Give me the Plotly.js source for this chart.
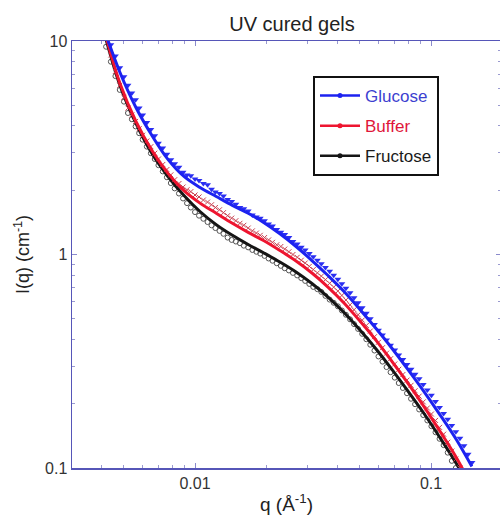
<!DOCTYPE html>
<html>
<head>
<meta charset="utf-8">
<script src="https://cdn.plot.ly/plotly-3.0.1.min.js"></script>
<style>html,body{margin:0;padding:0;overflow:hidden;background:#fff;}</style>
</head>
<body>
<div id="chart" style="width:501px;height:517px;"></div>
<script>
// ---- data ----
const seriesNames = ['Glucose', 'Buffer', 'Fructose'];

// measured points (common q grid)
const qData = [0.0040, 0.0042, 0.0044, 0.0046, 0.0048, 0.0050, 0.0052, 0.0054, 0.0056, 0.0058,
  0.0060, 0.00625, 0.0065, 0.00675, 0.0070, 0.0073, 0.0076, 0.0079, 0.0082, 0.00855,
  0.0089, 0.00925, 0.0096, 0.0100, 0.0104, 0.01085, 0.0113, 0.01175, 0.0122, 0.0127,
  0.0132, 0.01375, 0.0143, 0.0149, 0.0155, 0.0161, 0.0168, 0.0175, 0.0182, 0.0189,
  0.0197, 0.0205, 0.0213, 0.0222, 0.0231, 0.0240, 0.0250, 0.0260, 0.0271, 0.0282,
  0.0293, 0.0305, 0.0317, 0.0330, 0.0343, 0.0357, 0.0372, 0.0387, 0.0403, 0.0419,
  0.0436, 0.0454, 0.0472, 0.0491, 0.0511, 0.0532, 0.0553, 0.0576, 0.0599, 0.0623,
  0.0648, 0.0674, 0.0702, 0.0730, 0.0760, 0.0791, 0.0823, 0.0856, 0.0891, 0.0927,
  0.0965, 0.1004, 0.1045, 0.1087, 0.1131, 0.1177, 0.1225, 0.1274, 0.1326, 0.1380,
  0.1436, 0.1492, 0.155];
const glucoseData = [12.9, 11.0, 9.6, 8.5, 7.5, 6.8, 6.2, 5.7, 5.3, 4.85,
  4.5, 4.15, 3.85, 3.60, 3.32, 3.15, 2.95, 2.78, 2.66, 2.56,
  2.43, 2.36, 2.34, 2.26, 2.22, 2.15, 2.12, 2.02, 1.96, 1.93,
  1.88, 1.81, 1.77, 1.72, 1.66, 1.64, 1.60, 1.53, 1.50, 1.48,
  1.44, 1.39, 1.36, 1.31, 1.27, 1.24, 1.20, 1.15, 1.12, 1.08,
  1.05, 1.01, 0.975, 0.94, 0.905, 0.87, 0.835, 0.80, 0.765, 0.73,
  0.695, 0.662, 0.628, 0.595, 0.563, 0.530, 0.500, 0.470, 0.442, 0.420,
  0.398, 0.376, 0.357, 0.338, 0.322, 0.305, 0.290, 0.275, 0.262, 0.246,
  0.232, 0.219, 0.205, 0.192, 0.180, 0.169, 0.158, 0.148, 0.138, 0.127,
  0.116, 0.106, 0.098];
const bufferData = [12.5, 10.3, 8.6, 7.2, 6.2, 5.45, 4.85, 4.50, 4.20, 3.88,
  3.62, 3.40, 3.20, 2.98, 2.80, 2.64, 2.50, 2.36, 2.24, 2.15,
  2.07, 2.01, 1.97, 1.90, 1.86, 1.80, 1.76, 1.71, 1.66, 1.62,
  1.57, 1.52, 1.48, 1.44, 1.40, 1.37, 1.33, 1.29, 1.26, 1.23,
  1.20, 1.17, 1.14, 1.11, 1.09, 1.06, 1.03, 1.00, 0.970, 0.940,
  0.912, 0.880, 0.850, 0.820, 0.792, 0.762, 0.733, 0.703, 0.674, 0.643,
  0.612, 0.581, 0.551, 0.522, 0.493, 0.465, 0.438, 0.412, 0.388, 0.366,
  0.345, 0.325, 0.307, 0.290, 0.274, 0.258, 0.244, 0.230, 0.217, 0.204,
  0.191, 0.179, 0.167, 0.155, 0.144, 0.132, 0.120, 0.110, 0.100];
const fructoseData = [11.2, 9.4, 8.0, 6.85, 5.9, 5.2, 4.6, 4.3, 3.98, 3.70,
  3.45, 3.20, 2.98, 2.80, 2.62, 2.45, 2.30, 2.16, 2.04, 1.93,
  1.83, 1.74, 1.66, 1.58, 1.52, 1.47, 1.42, 1.37, 1.33, 1.29,
  1.25, 1.20, 1.17, 1.15, 1.13, 1.10, 1.08, 1.05, 1.03, 1.01,
  0.985, 0.958, 0.935, 0.910, 0.885, 0.862, 0.842, 0.820, 0.798, 0.775,
  0.752, 0.728, 0.705, 0.688, 0.668, 0.640, 0.615, 0.594, 0.572, 0.547,
  0.522, 0.497, 0.472, 0.448, 0.425, 0.401, 0.378, 0.355, 0.333, 0.315,
  0.297, 0.281, 0.265, 0.250, 0.237, 0.224, 0.211, 0.199, 0.188, 0.177,
  0.167, 0.157, 0.147, 0.137, 0.128, 0.118, 0.108, 0.100];

// model fits (common q grid)
const qFit = [0.00412, 0.00481, 0.00562, 0.00657, 0.00768, 0.00898, 0.0105, 0.0123, 0.0144, 0.0168,
  0.0196, 0.0229, 0.0268, 0.0313, 0.0366, 0.0428, 0.0500, 0.0585, 0.0684, 0.0799,
  0.0934, 0.109, 0.128, 0.149];
const glucoseFit = [11.32, 7.12, 4.88, 3.61, 2.79, 2.32, 2.06, 1.87, 1.70, 1.56,
  1.41, 1.25, 1.09, 0.937, 0.797, 0.671, 0.553, 0.450, 0.363, 0.289,
  0.228, 0.178, 0.136, 0.1016];
const bufferFit = [11.32, 6.32, 4.20, 3.07, 2.40, 1.99, 1.74, 1.56, 1.40, 1.27,
  1.16, 1.044, 0.932, 0.819, 0.704, 0.593, 0.488, 0.396, 0.315, 0.249,
  0.194, 0.149, 0.112, 0.0819];
const fructoseFit = [10.96, 6.19, 4.11, 2.97, 2.32, 1.89, 1.59, 1.38, 1.23, 1.114,
  1.016, 0.922, 0.828, 0.731, 0.632, 0.535, 0.443, 0.361, 0.289, 0.229,
  0.180, 0.139, 0.105, 0.0776];

const xTickVals = [0.01, 0.1];
const xTickText = ['0.01', '0.1'];
const yTickVals = [0.1, 1, 10];
const yTickText = ['0.1', '1', '10'];
const xMinor = [0.004, 0.005, 0.006, 0.007, 0.008, 0.009, 0.02, 0.03, 0.04, 0.05, 0.06, 0.07, 0.08, 0.09, 0.2];
const yMinor = [0.2, 0.3, 0.4, 0.5, 0.6, 0.7, 0.8, 0.9, 2, 3, 4, 5, 6, 7, 8, 9];

// ---- styling ----
const FONT = 'Liberation Sans, Arial, Helvetica, sans-serif';
const colors = {Glucose: '#1c22f0', Buffer: '#ee1530', Fructose: '#151515'};
const textColors = {Glucose: '#3d3fd0', Buffer: '#e0163a', Fructose: '#1a1a1a'};
const markerStyle = {
  Glucose: {symbol: 'triangle-down', size: 6, color: '#2a2ef2'},
  Buffer: {symbol: 'x-thin-open', size: 5, color: '#c8404f', line: {width: 1, color: '#c8404f'}},
  Fructose: {symbol: 'circle-open', size: 5, color: '#555555', line: {width: 1, color: '#555555'}}
};
const AX = '#5656b8';

const dataSets = {Glucose: glucoseData, Buffer: bufferData, Fructose: fructoseData};
const fits = {Glucose: glucoseFit, Buffer: bufferFit, Fructose: fructoseFit};

const traces = [];
// legend entries (line + marker)
seriesNames.forEach(n => {
  traces.push({
    x: [null], y: [null], type: 'scatter', mode: 'lines+markers',
    name: '<span style="color:' + textColors[n] + '">' + n + '</span>',
    line: {color: colors[n], width: 2.5},
    marker: {symbol: 'circle', size: 5, color: colors[n]},
    legendgroup: n, showlegend: true, hoverinfo: 'skip'
  });
});
// drawing order: Fructose, Buffer, Glucose
['Fructose', 'Buffer', 'Glucose'].forEach(n => {
  traces.push({
    x: qData.slice(0, dataSets[n].length), y: dataSets[n], type: 'scatter', mode: 'markers',
    marker: markerStyle[n], showlegend: false, legendgroup: n
  });
  traces.push({
    x: qFit, y: fits[n], type: 'scatter', mode: 'lines',
    line: {color: colors[n], width: 3, shape: 'spline', smoothing: 1},
    showlegend: false, legendgroup: n
  });
});

const layout = {
  width: 501, height: 517,
  margin: {l: 72, r: 0, t: 41, b: 49, autoexpand: false},
  paper_bgcolor: '#ffffff', plot_bgcolor: '#ffffff',
  font: {family: FONT, color: '#222', size: 16},
  showlegend: true,
  title: {
    text: 'UV cured gels', font: {family: FONT, size: 20, color: '#222'},
    xref: 'container', yref: 'container', x: 292 / 501, y: 1 - 24 / 517,
    xanchor: 'center', yanchor: 'middle'
  },
  xaxis: {
    type: 'log', range: [-2.5212, -0.7034],
    showline: true, linecolor: AX, linewidth: 1.5, mirror: 'ticks',
    ticks: 'inside', ticklen: 5, tickcolor: '#8a8acc', tickwidth: 1,
    tickmode: 'array', tickvals: xTickVals, ticktext: xTickText,
    minor: {tickmode: 'array', tickvals: xMinor, ticks: 'inside', ticklen: 3, tickcolor: '#9a9ad0'},
    showgrid: false, zeroline: false,
    tickfont: {family: FONT, size: 16, color: '#333'},
    title: {text: 'q (Å<sup>-1</sup>)', font: {family: FONT, size: 19, color: '#222'}, standoff: 7}
  },
  yaxis: {
    type: 'log', range: [-1, 1],
    showline: true, linecolor: AX, linewidth: 1.5, mirror: 'ticks',
    ticks: 'inside', ticklen: 5, tickcolor: '#8a8acc', tickwidth: 1,
    tickmode: 'array', tickvals: yTickVals, ticktext: yTickText,
    minor: {tickmode: 'array', tickvals: yMinor, ticks: 'inside', ticklen: 3, tickcolor: '#9a9ad0'},
    showgrid: false, zeroline: false,
    tickfont: {family: FONT, size: 16, color: '#333'},
    title: {text: 'I(q) (cm<sup>-1</sup>)', font: {family: FONT, size: 18, color: '#222'}, standoff: 10}
  },
  legend: {
    x: (313 - 72) / 429, y: 1 - (76 - 41) / 427, xanchor: 'left', yanchor: 'top',
    bgcolor: '#ffffff', bordercolor: '#111', borderwidth: 2,
    font: {family: FONT, size: 17},
    traceorder: 'grouped', tracegroupgap: 5, itemwidth: 40
  }
};

Plotly.newPlot('chart', traces, layout, {displayModeBar: false, staticPlot: true});
</script>
</body>
</html>
